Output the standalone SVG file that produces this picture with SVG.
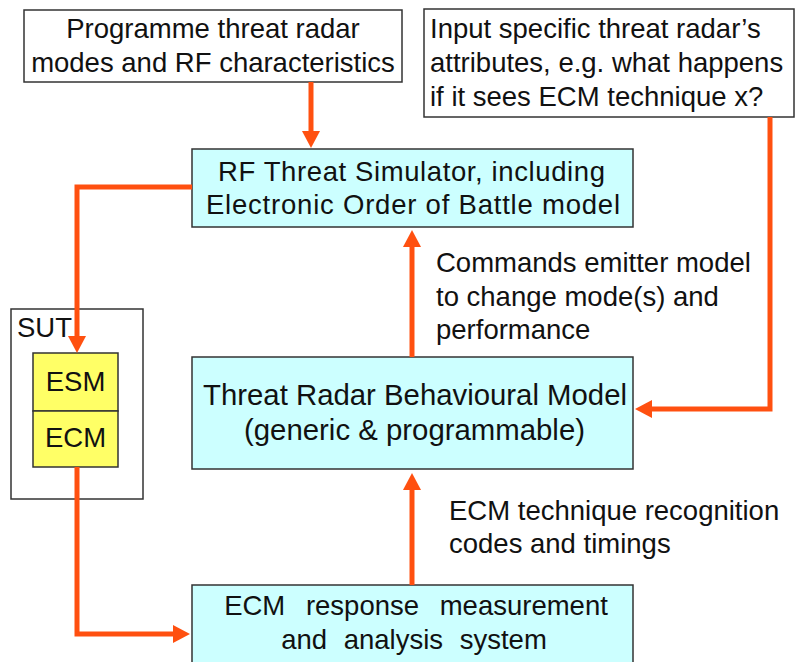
<svg xmlns="http://www.w3.org/2000/svg" width="795" height="662" viewBox="0 0 795 662">
<style>
text{font-family:"Liberation Sans",Arial,sans-serif;font-size:27.5px;fill:#111}
.c{text-anchor:middle}
.bx{stroke:#333;stroke-width:1.5}
.w{fill:#fff}
.cy{fill:#ccffff}
.y{fill:#ffff66}
.big{font-size:29.5px}
.conn path{fill:none;stroke:#ff5010;stroke-width:5;stroke-linejoin:miter;marker-end:url(#ah)}
</style>
<defs>
<marker id="ah" viewBox="0 0 17 18" refX="5" refY="9" markerWidth="17" markerHeight="18" markerUnits="userSpaceOnUse" orient="auto">
<path d="M0,0 L17,9 L0,18 z" fill="#ff5010"/>
</marker>
</defs>
<rect width="795" height="662" fill="#fff"/>
<g id="programme">
<rect class="bx w" x="24" y="10" width="378" height="72"/>
<text class="c" x="213" y="38">Programme threat radar</text>
<text class="c" x="213" y="72">modes and RF characteristics</text>
</g>
<g id="input">
<rect class="bx w" x="424" y="9" width="370" height="108"/>
<text x="430" y="38">Input specific threat radar’s</text>
<text x="430" y="72">attributes, e.g. what happens</text>
<text x="430" y="106">if it sees ECM technique x?</text>
</g>
<g id="simulator">
<rect class="bx cy" x="192" y="149" width="441" height="78"/>
<text x="218" y="181" textLength="387" lengthAdjust="spacing">RF Threat Simulator, including</text>
<text x="206" y="214" textLength="414" lengthAdjust="spacing">Electronic Order of Battle model</text>
</g>
<g id="sut">
<rect class="bx w" x="11" y="309" width="132" height="190"/>
<text x="17" y="337">SUT</text>
</g>
<g id="esm">
<rect class="bx y" x="33" y="353" width="85" height="58"/>
<text class="c" x="75.5" y="391">ESM</text>
</g>
<g id="ecm">
<rect class="bx y" x="33" y="411" width="85" height="56"/>
<text class="c" x="75.5" y="447">ECM</text>
</g>
<g id="behavioural">
<rect class="bx cy" x="192" y="357" width="441" height="112"/>
<text class="big" x="203" y="405" textLength="424" lengthAdjust="spacingAndGlyphs">Threat Radar Behavioural Model</text>
<text class="big" x="244" y="440" textLength="341" lengthAdjust="spacingAndGlyphs">(generic &amp; programmable)</text>
</g>
<g id="measurement">
<rect class="bx cy" x="192" y="585" width="441" height="90"/>
<text class="c" x="416" y="615" word-spacing="13">ECM response measurement</text>
<text class="c" x="414" y="649" word-spacing="9">and analysis system</text>
</g>
<g id="labels">
<text x="436" y="272">Commands emitter model</text>
<text x="436" y="306">to change mode(s) and</text>
<text x="436" y="339">performance</text>
<text x="449" y="520">ECM technique recognition</text>
<text x="449" y="553">codes and timings</text>
</g>
<g class="conn" id="connectors">
<path d="M311,82 V136"/>
<path d="M192,187 H77 V341"/>
<path d="M770,117 V409 H647"/>
<path d="M412,357 V242"/>
<path d="M412,585 V485"/>
<path d="M77,467 V634 H178"/>
</g>
</svg>
